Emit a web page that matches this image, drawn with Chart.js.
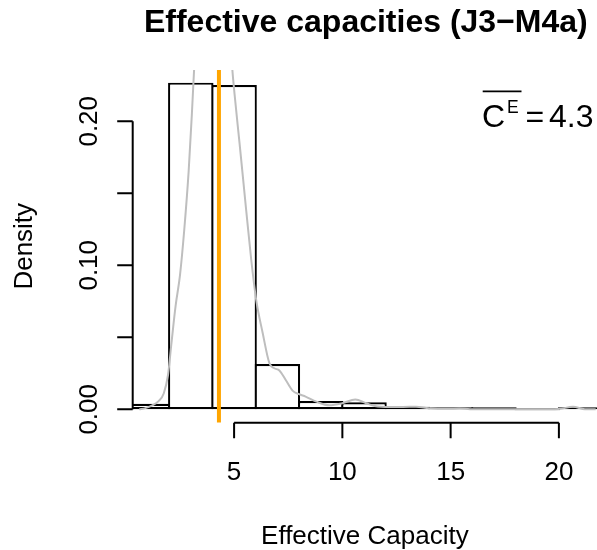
<!DOCTYPE html>
<html>
<head>
<meta charset="utf-8">
<script src="https://cdn.jsdelivr.net/npm/chart.js@4/dist/chart.umd.min.js"></script>
<style>
  body { margin: 0; background: #fff; }
  canvas { display: block; }
</style>
</head>
<body>
<canvas id="myChart" width="597" height="550"></canvas>
<script>
// histogram bins (width 2) and densities
var binCenters = [1, 3, 5, 7, 9, 11, 13, 15, 17, 19, 21];
var binDensity = [0.0038, 0.2268, 0.2252, 0.0315, 0.0058, 0.0049, 0.0018, 0.0007, 0.0002, 0, 0.0003];

// kernel density estimate
var densX = [0.62, 0.9, 1.2, 1.5, 1.75, 1.95, 2.1, 2.3, 2.5, 2.7, 2.9, 3.05, 3.2, 3.5, 3.8, 4.1, 4.4, 4.7, 4.9,
             5.02, 5.25, 5.56, 5.79, 6.02, 6.32, 6.63, 6.86, 7.09, 7.4, 7.7, 8.0, 8.3, 8.8, 9.4, 10.0, 10.6,
             11.1, 11.5, 12.2, 12.8, 13.4, 14.0, 14.9, 15.4, 15.9, 17, 19, 20.0, 20.65, 21.2, 21.7];
var densY = [0, 0.0008, 0.0025, 0.0055, 0.011, 0.024, 0.045, 0.072, 0.093, 0.125, 0.165, 0.205, 0.25, 0.32, 0.37, 0.385, 0.37, 0.30, 0.24,
             0.219, 0.185, 0.138, 0.104, 0.076, 0.053, 0.032, 0.0285, 0.027, 0.020, 0.013, 0.0105, 0.0088, 0.0053, 0.0028, 0.0042, 0.0068,
             0.0042, 0.0023, 0.0016, 0.0016, 0.0018, 0.0007, 0.0003, 0.0005, 0.0001, 0, 0, 0.0002, 0.0018, 0.0001, 0];

var meanCap = 4.3;

var xTicks = [5, 10, 15, 20];
var yTicks = [0, 0.05, 0.10, 0.15, 0.20];
var yLabels = ['0.00', '', '0.10', '', '0.20'];

var font = '"Liberation Sans", Arial, Helvetica, sans-serif';

// R style axes, axis titles and the mean label
var rAxes = {
    id: 'rAxes',
    afterDraw: function(chart) {
        var ctx = chart.ctx, a = chart.chartArea;
        var x = chart.scales.x, y = chart.scales.y;
        var tick = 15.5;
        ctx.save();
        ctx.strokeStyle = '#000';
        ctx.fillStyle = '#000';
        ctx.lineWidth = 2;

        // y axis
        ctx.beginPath();
        ctx.moveTo(a.left, y.getPixelForValue(yTicks[0]));
        ctx.lineTo(a.left, y.getPixelForValue(yTicks[yTicks.length - 1]));
        yTicks.forEach(function(v) {
            var py = y.getPixelForValue(v);
            ctx.moveTo(a.left - tick, py);
            ctx.lineTo(a.left, py);
        });
        // x axis
        var xb = a.bottom + 0.3;
        ctx.moveTo(x.getPixelForValue(xTicks[0]), xb);
        ctx.lineTo(x.getPixelForValue(xTicks[xTicks.length - 1]), xb);
        xTicks.forEach(function(v) {
            var px = x.getPixelForValue(v);
            ctx.moveTo(px, xb);
            ctx.lineTo(px, xb + tick);
        });
        ctx.stroke();

        ctx.font = '26px ' + font;
        ctx.textAlign = 'center';
        ctx.textBaseline = 'alphabetic';
        xTicks.forEach(function(v) {
            ctx.fillText(String(v), x.getPixelForValue(v), 480);
        });
        yTicks.forEach(function(v, i) {
            if (!yLabels[i]) return;
            ctx.save();
            ctx.translate(96.5, y.getPixelForValue(v));
            ctx.rotate(-Math.PI / 2);
            ctx.fillText(yLabels[i], 0, 0);
            ctx.restore();
        });

        // axis titles
        ctx.fillText('Effective Capacity', (a.left + a.right) / 2, 543.5);
        ctx.save();
        ctx.translate(31.5, (a.top + a.bottom) / 2);
        ctx.rotate(-Math.PI / 2);
        ctx.fillText('Density', 0, 0);
        ctx.restore();

        // mean label: overline C superscript E = value
        ctx.textAlign = 'left';
        ctx.font = '32px ' + font;
        ctx.fillText('C', 482, 126.7);
        ctx.fillText('=', 525.5, 126.7);
        ctx.fillText(meanCap.toFixed(1), 549, 126.7);
        ctx.font = '17.5px ' + font;
        ctx.fillText('E', 507, 113.3);
        ctx.lineWidth = 1.8;
        ctx.beginPath();
        ctx.moveTo(482.7, 91.3);
        ctx.lineTo(521.5, 91.3);
        ctx.stroke();
        ctx.restore();
    }
};

var ctx = document.getElementById('myChart').getContext('2d');
var myChart = new Chart(ctx, {
    type: 'bar',
    data: {
        datasets: [{
            type: 'line',
            label: 'mean',
            data: [{x: meanCap, y: -0.05}, {x: meanCap, y: 0.5}],
            borderColor: '#FFA500',
            borderWidth: 4,
            pointRadius: 0,
            clip: 0,
            order: 0
        }, {
            type: 'line',
            label: 'density',
            data: densX.map(function(v, i) { return {x: v, y: densY[i]}; }),
            borderColor: '#BEBEBE',
            borderWidth: 2,
            pointRadius: 0,
            cubicInterpolationMode: 'monotone',
            clip: 0,
            order: 1
        }, {
            label: 'histogram',
            data: binCenters.map(function(v, i) { return {x: v, y: binDensity[i]}; }),
            backgroundColor: '#FFFFFF',
            borderColor: '#000000',
            borderWidth: 2.2,
            borderSkipped: false,
            minBarLength: 2,
            barPercentage: 1.05,
            categoryPercentage: 1,
            clip: 0,
            order: 2
        }]
    },
    options: {
        responsive: false,
        animation: false,
        devicePixelRatio: 1,
        layout: {
            padding: {left: 132.7, right: -2, top: 0, bottom: 127.5}
        },
        plugins: {
            legend: {display: false},
            tooltip: {enabled: false},
            title: {
                display: true,
                text: 'Effective capacities (J3\u2212M4a)',
                color: '#000',
                font: {family: font, size: 32, weight: 'bold'},
                padding: {top: 3.7, bottom: 27.9}
            }
        },
        scales: {
            x: {
                type: 'linear',
                display: false,
                offset: false,
                min: 0.317,
                max: 21.76
            },
            y: {
                type: 'linear',
                display: false,
                min: -0.00917,
                max: 0.2356
            }
        }
    },
    plugins: [rAxes]
});
</script>
</body>
</html>
